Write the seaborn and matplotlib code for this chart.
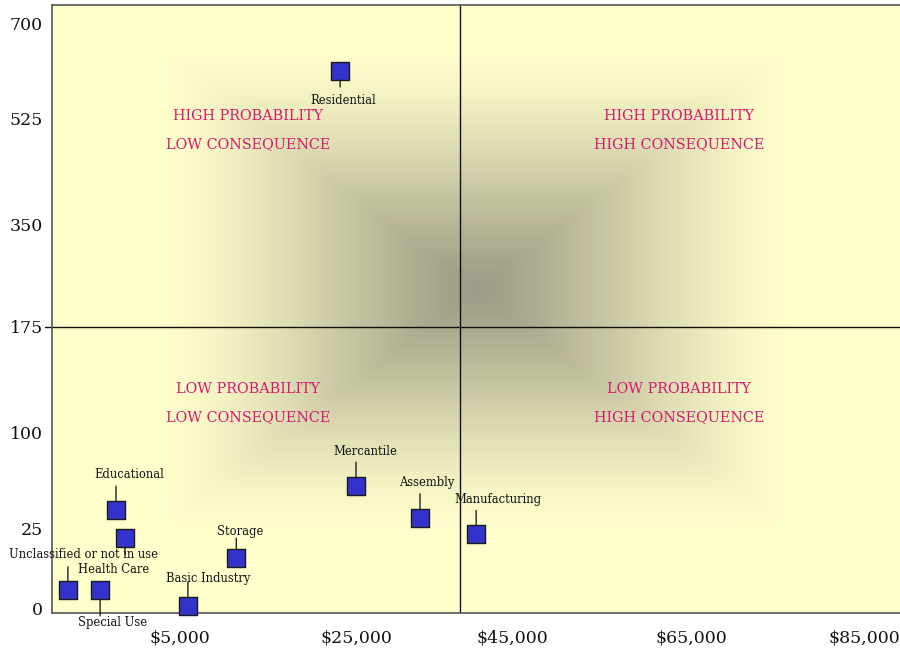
import numpy as np
import pandas as pd
import matplotlib
matplotlib.use("Agg")
import matplotlib.pyplot as plt
import seaborn as sns

# ---------------- data ----------------
occupancy = ["Residential", "Mercantile", "Assembly", "Manufacturing", "Educational",
             "Health Care", "Unclassified or not in use", "Special Use",
             "Basic Industry", "Storage"]
avg_loss = [23200, 25000, 33200, 40400, 2500, 2850, 620, 1880, 5900, 11400]
frequency = [613, 58, 33, 23, 39, 22, 6, 6, 0.9, 15.7]

x_ticks = [5000, 25000, 45000, 65000, 85000]
x_tick_labels = ["$5,000", "$25,000", "$45,000", "$65,000", "$85,000"]
y_ticks = [0, 25, 100, 175, 350, 525, 700]
y_tick_labels = ["0", "25", "100", "175", "350", "525", "700"]

x_split = 38300
y_split = 175

quad_text = [("HIGH PROBABILITY", "LOW CONSEQUENCE"),
             ("HIGH PROBABILITY", "HIGH CONSEQUENCE"),
             ("LOW PROBABILITY", "LOW CONSEQUENCE"),
             ("LOW PROBABILITY", "HIGH CONSEQUENCE")]

# ---------------- layout (non-linear axis anchors, in axes fraction) ----------------
x_anchor_vals = [0, 5000, 25000, 45000, 65000, 85000, 89160]
x_anchor_frac = [0, 0.1509, 0.3585, 0.5425, 0.7535, 0.9575, 1.0]
y_anchor_vals = [-1.2, 0, 25, 100, 175, 350, 525, 700, 735]
y_anchor_frac = [0, 0.0066, 0.1398, 0.2961, 0.4704, 0.6398, 0.8141, 0.9688, 1.0]

# label layout: (text dx px, text dy px, connector end dy px)
label_layout = {
    "Residential": (3, -29.3, -16.3),
    "Mercantile": (9, 35, 24),
    "Assembly": (7, 35, 24),
    "Manufacturing": (22, 35, 24),
    "Educational": (13, 36, 24),
    "Health Care": (-11.5, -32, -17),
    "Unclassified or not in use": (16, 34.7, 22.7),
    "Special Use": (12, -33.3, -26.3),
    "Basic Industry": (20, 28, 24),
    "Storage": (3.5, 27, 20),
}


def make_scale(vals, fr):
    vals = np.asarray(vals, float)
    fr = np.asarray(fr, float)

    def _f(v, a, b):
        v = np.asarray(v, float)
        out = np.interp(v, a, b)
        lo_s = (b[1] - b[0]) / (a[1] - a[0])
        hi_s = (b[-1] - b[-2]) / (a[-1] - a[-2])
        out = np.where(v < a[0], b[0] + (v - a[0]) * lo_s, out)
        out = np.where(v > a[-1], b[-1] + (v - a[-1]) * hi_s, out)
        return out

    return (lambda v: _f(v, vals, fr)), (lambda p: _f(p, fr, vals))


sns.set_theme(style="white")
plt.rcParams["font.family"] = ["DejaVu Serif", "DejaVu Sans"]

W, H, DPI = 900, 654, 100
fig = plt.figure(figsize=(W / DPI, H / DPI), dpi=DPI)
rect = [52 / W, (654 - 613) / H, 848 / W, 608 / H]

# background gradient axes
bg = fig.add_axes(rect, zorder=0)
bg.set_axis_off()
gw, gh = 848, 608
xx, yy = np.meshgrid(np.arange(gw) + 0.5, np.arange(gh) + 0.5)
cx, cy, hw, hh = 424, 284, 315, 240
p = 40.0
t = (np.abs(xx - cx) / hw) ** p + (np.abs(yy - cy) / hh) ** p
t = np.clip(t ** (1 / p), 0, 1)
s = (1 - (1 - t) ** 1.4) ** 1.3
light = np.array([255, 255, 204]) / 255
dark = np.array([158, 156, 133]) / 255
img = dark[None, None, :] + (light - dark)[None, None, :] * s[..., None]
bg.imshow(img, extent=[0, 1, 0, 1], aspect="auto", origin="upper", interpolation="bilinear")
bg.set_xlim(0, 1)
bg.set_ylim(0, 1)

ax = fig.add_axes(rect, zorder=1)
ax.set_facecolor("none")
fx, ix = make_scale(x_anchor_vals, x_anchor_frac)
fy, iy = make_scale(y_anchor_vals, y_anchor_frac)
ax.set_xscale("function", functions=(fx, ix))
ax.set_yscale("function", functions=(fy, iy))

df = pd.DataFrame({"occupancy": occupancy, "avg_loss": avg_loss, "frequency": frequency})

# quadrant lines
ax.axvline(x_split, color="#111111", lw=1.0, zorder=2)
ax.plot([-0.008, 1], [y_split, y_split], color="#111111", lw=1.0, zorder=2,
        transform=ax.get_yaxis_transform(), clip_on=False)

sns.scatterplot(data=df, x="avg_loss", y="frequency", marker="s", s=150,
                color="#3333CC", edgecolor="#1a1a1a", linewidth=1.0, ax=ax,
                zorder=5, clip_on=False, legend=False)

px2pt = 72 / DPI
for name, xv, yv in zip(occupancy, avg_loss, frequency):
    tdx, tdy, ldy = label_layout[name]
    ax.annotate("", xy=(xv, yv), xytext=(0, ldy * px2pt), textcoords="offset points",
                arrowprops=dict(arrowstyle="-", color="#222222", lw=1.0,
                                shrinkA=0, shrinkB=8 * px2pt), zorder=4)
    ax.annotate(name, xy=(xv, yv), xytext=(tdx * px2pt, tdy * px2pt),
                textcoords="offset points", ha="center", va="center",
                fontsize=8.3, color="#111111", zorder=6)

# quadrant texts
qx = [(247.8 - 52) / 848, (679 - 52) / 848]
qy = [(613 - 115.7) / 608, (613 - 143.7) / 608, (613 - 388.7) / 608, (613 - 417.5) / 608]
pos = [(qx[0], 0), (qx[1], 0), (qx[0], 2), (qx[1], 2)]
for (l1, l2), (xq, r) in zip(quad_text, pos):
    ax.text(xq, qy[r], l1, transform=ax.transAxes, ha="center", va="center",
            fontsize=10.4, color="#D6186E", zorder=3)
    ax.text(xq, qy[r + 1], l2, transform=ax.transAxes, ha="center", va="center",
            fontsize=10.4, color="#D6186E", zorder=3)

ax.set_xlim(x_anchor_vals[0], x_anchor_vals[-1])
ax.set_ylim(y_anchor_vals[0], y_anchor_vals[-1])
ax.set_xticks(x_ticks)
ax.set_xticklabels(x_tick_labels)
ax.set_yticks(y_ticks)
ax.set_yticklabels(y_tick_labels)
ax.minorticks_off()
ax.tick_params(axis="both", length=0, labelsize=12.5, colors="#111111")
ax.tick_params(axis="x", pad=12)
ax.tick_params(axis="y", pad=6.5)
ax.set_xlabel("")
ax.set_ylabel("")
for side in ["left", "bottom", "top"]:
    ax.spines[side].set_visible(True)
    ax.spines[side].set_color("#555555")
    ax.spines[side].set_linewidth(1.2)
ax.spines["right"].set_visible(False)
ax.grid(False)

fig.savefig("out.png", dpi=DPI)
